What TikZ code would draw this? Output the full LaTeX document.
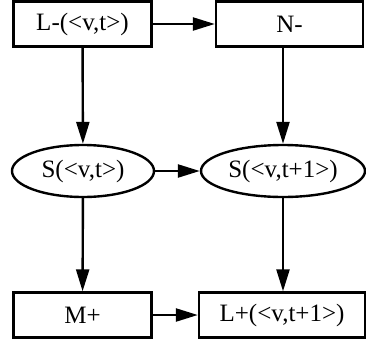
\documentclass[tikz,border=0pt]{standalone}
\usepackage{fontspec}
\setmainfont{Liberation Serif}
\usetikzlibrary{shapes.geometric,arrows.meta}

\begin{document}
\begin{tikzpicture}[x=1pt,y=-1pt,line width=2.4pt,
    box/.style={rectangle, draw, minimum height=45pt, inner sep=0pt},
    oval/.style={ellipse, draw, minimum height=52pt, inner sep=0pt},
    font=\fontsize{25}{30}\selectfont,
    >={Triangle[length=22pt,width=13pt]}]
    \useasboundingbox (0,0) rectangle (366,343);
    \node[box, minimum width=138pt]
      (lminus) at (82.5,24)
      {L-(<v,t>)};
    \node[box, minimum width=147pt]
      (nminus) at (289.5,24)
      {N-};
    \node[oval, minimum width=142pt]
      (sleft) at (83,171)
      {S(<v,t>)};
    \node[oval, minimum width=164pt]
      (sright) at (283,171)
      {S(<v,t+1>)};
    \node[box, minimum width=138pt]
      (mplus) at (82.5,315)
      {M+};
    \node[box, minimum width=166pt]
      (lplus) at (282,315)
      {L+(<v,t+1>)};
    \draw
      (lminus) edge[->] (nminus)
      (lminus) edge[->] (sleft)
      (nminus.south -| sright) edge[->] (sright)
      (sleft) edge[->] (sright)
      (sleft) edge[->] (mplus)
      (sright) edge[->] (lplus.north -| sright)
      (mplus) edge[->] (lplus)
      ;
  \end{tikzpicture}
\end{document}
